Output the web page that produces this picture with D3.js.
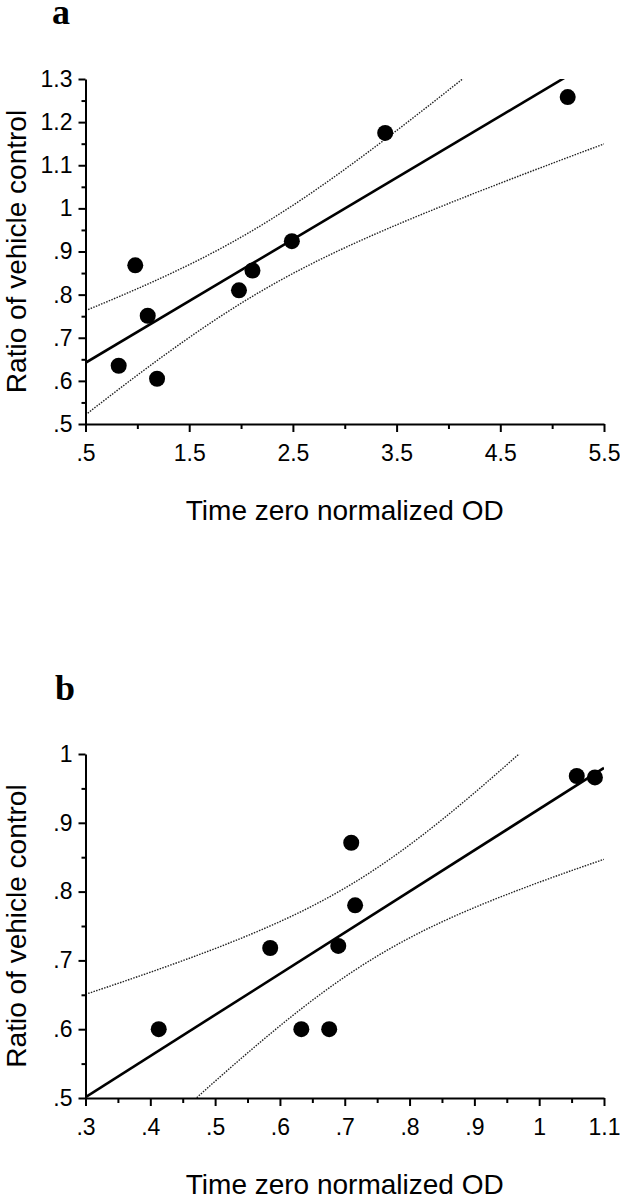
<!DOCTYPE html>
<html><head><meta charset="utf-8">
<script src="https://cdn.jsdelivr.net/npm/d3@7"></script>
<style>body{margin:0;background:#fff} svg{display:block}</style>
</head><body>
<svg id="chart" width="620" height="1199"></svg>
<script>
// ---- Data ----
const panelALabel = "a";
const panelAX = [0.82, 0.98, 1.10, 1.19, 1.98, 2.11, 2.49, 3.39, 5.15];
const panelAY = [0.635, 0.868, 0.751, 0.605, 0.81, 0.856, 0.924, 1.175, 1.258];
const panelAXTicks = [0.5, 1.5, 2.5, 3.5, 4.5, 5.5];
const panelAXTickLabels = [".5", "1.5", "2.5", "3.5", "4.5", "5.5"];
const panelAXMinor = [1.0, 2.0, 3.0, 4.0, 5.0];
const panelAYTicks = [0.5, 0.6, 0.7, 0.8, 0.9, 1.0, 1.1, 1.2, 1.3];
const panelAYTickLabels = [".5", ".6", ".7", ".8", ".9", "1", "1.1", "1.2", "1.3"];
const panelAYMinor = [0.55, 0.65, 0.75, 0.85, 0.95, 1.05, 1.15, 1.25];

const panelBLabel = "b";
const panelBX = [0.413, 0.585, 0.633, 0.676, 0.690, 0.710, 0.716, 1.058, 1.086];
const panelBY = [0.600, 0.718, 0.600, 0.600, 0.721, 0.871, 0.780, 0.968, 0.966];
const panelBXTicks = [0.3, 0.4, 0.5, 0.6, 0.7, 0.8, 0.9, 1.0, 1.1];
const panelBXTickLabels = [".3", ".4", ".5", ".6", ".7", ".8", ".9", "1", "1.1"];
const panelBXMinor = [0.35, 0.45, 0.55, 0.65, 0.75, 0.85, 0.95, 1.05];
const panelBYTicks = [0.5, 0.6, 0.7, 0.8, 0.9, 1.0];
const panelBYTickLabels = [".5", ".6", ".7", ".8", ".9", "1"];
const panelBYMinor = [0.55, 0.65, 0.75, 0.85, 0.95];

const xTitle = "Time zero normalized OD";
const yTitle = "Ratio of vehicle control";
const tCrit = 2.365; // t(0.975, df = 7)

// ---- Drawing ----
const svg = d3.select("#chart");
const FONT = "'Liberation Sans', Arial, Helvetica, sans-serif";

function regression(xs, ys) {
  const n = xs.length;
  const mx = d3.mean(xs), my = d3.mean(ys);
  let sxx = 0, sxy = 0;
  for (let i = 0; i < n; i++) { sxx += (xs[i]-mx)**2; sxy += (xs[i]-mx)*(ys[i]-my); }
  const b = sxy / sxx, a = my - b * mx;
  let sse = 0;
  for (let i = 0; i < n; i++) sse += (ys[i] - (a + b*xs[i]))**2;
  const s = Math.sqrt(sse / (n - 2));
  return {a, b, s, n, mx, sxx};
}

function panel(cfg) {
  const {id, label, labelPos, xs, ys, xDomain, yDomain, left, right, top, bottom,
         xTicks, xTickLabels, xMinor, yTicks, yTickLabels, yMinor} = cfg;
  const x = d3.scaleLinear().domain(xDomain).range([left, right]);
  const y = d3.scaleLinear().domain(yDomain).range([bottom, top]);
  const g = svg.append("g");

  g.append("text").attr("x", labelPos[0]).attr("y", labelPos[1])
    .attr("font-family", "'Liberation Serif', 'Times New Roman', serif")
    .attr("font-weight", "bold").attr("font-size", 36).text(label);

  const clipId = "clip-" + id;
  svg.append("clipPath").attr("id", clipId).append("rect")
    .attr("x", left).attr("y", top).attr("width", right - left).attr("height", bottom - top);

  const r = regression(xs, ys);
  const samples = d3.range(0, 201).map(i => xDomain[0] + (xDomain[1]-xDomain[0]) * i / 200);
  const hw = xv => tCrit * r.s * Math.sqrt(1 / r.n + (xv - r.mx)**2 / r.sxx);
  const lineGen = d3.line().x(d => x(d[0])).y(d => y(d[1]));
  const plot = g.append("g").attr("clip-path", `url(#${clipId})`);

  [1, -1].forEach(sign => {
    plot.append("path")
      .attr("d", lineGen(samples.map(xv => [xv, r.a + r.b*xv + sign*hw(xv)])))
      .attr("fill", "none").attr("stroke", "#222").attr("stroke-width", 1.4)
      .attr("stroke-dasharray", "1.5 1.3");
  });
  plot.append("path")
    .attr("d", lineGen([[xDomain[0], r.a + r.b*xDomain[0]], [xDomain[1], r.a + r.b*xDomain[1]]]))
    .attr("fill", "none").attr("stroke", "#000").attr("stroke-width", 2.6);

  g.selectAll("circle.pt").data(xs.map((d, i) => [d, ys[i]])).enter()
    .append("circle").attr("class", "pt")
    .attr("cx", d => x(d[0])).attr("cy", d => y(d[1])).attr("r", 8).attr("fill", "#000");

  // Axes
  const styleAxis = sel => {
    sel.selectAll("path.domain").attr("stroke", "#000").attr("stroke-width", 2);
    sel.selectAll(".tick line").attr("stroke", "#000").attr("stroke-width", 2);
    sel.selectAll(".tick text").attr("font-family", FONT).attr("font-size", 23).attr("fill", "#000");
  };
  const xa = g.append("g").attr("transform", `translate(0,${bottom})`)
    .call(d3.axisBottom(x).tickValues(xTicks).tickSize(8).tickSizeOuter(0)
      .tickPadding(13).tickFormat((d, i) => xTickLabels[i]));
  styleAxis(xa);
  const xm = g.append("g").attr("transform", `translate(0,${bottom})`)
    .call(d3.axisBottom(x).tickValues(xMinor).tickSize(5).tickFormat(""));
  xm.select("path.domain").remove();
  styleAxis(xm);

  const ya = g.append("g").attr("transform", `translate(${left},0)`)
    .call(d3.axisLeft(y).tickValues(yTicks).tickSize(7).tickSizeOuter(0)
      .tickPadding(6).tickFormat((d, i) => yTickLabels[i]));
  styleAxis(ya);
  const ym = g.append("g").attr("transform", `translate(${left},0)`)
    .call(d3.axisLeft(y).tickValues(yMinor).tickSize(4).tickFormat(""));
  ym.select("path.domain").remove();
  styleAxis(ym);

  g.append("text").attr("x", (left + right) / 2).attr("y", bottom + 96)
    .attr("text-anchor", "middle").attr("font-family", FONT).attr("font-size", 28)
    .text(xTitle);
  g.append("text")
    .attr("transform", `translate(26,${(top + bottom) / 2}) rotate(-90)`)
    .attr("text-anchor", "middle").attr("font-family", FONT).attr("font-size", 28)
    .text(yTitle);
}

panel({id: "a", label: panelALabel, labelPos: [52, 24], xs: panelAX, ys: panelAY,
  xDomain: [0.5, 5.5], yDomain: [0.5, 1.3], left: 85.5, right: 604, top: 79, bottom: 424,
  xTicks: panelAXTicks, xTickLabels: panelAXTickLabels, xMinor: panelAXMinor,
  yTicks: panelAYTicks, yTickLabels: panelAYTickLabels, yMinor: panelAYMinor});

panel({id: "b", label: panelBLabel, labelPos: [55, 700], xs: panelBX, ys: panelBY,
  xDomain: [0.3, 1.1], yDomain: [0.5, 1.0], left: 85.5, right: 604, top: 754, bottom: 1098,
  xTicks: panelBXTicks, xTickLabels: panelBXTickLabels, xMinor: panelBXMinor,
  yTicks: panelBYTicks, yTickLabels: panelBYTickLabels, yMinor: panelBYMinor});
</script>
</body></html>
